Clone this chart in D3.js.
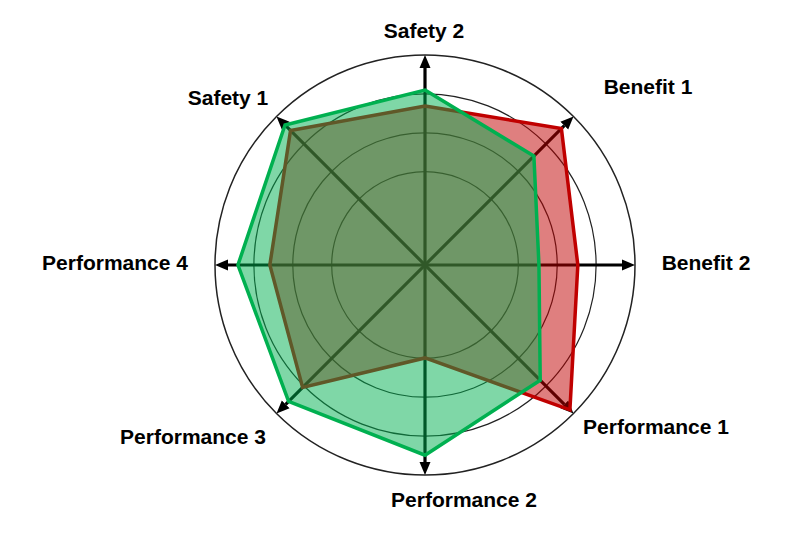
<!DOCTYPE html>
<script src="https://cdn.jsdelivr.net/npm/d3@7"></script>
<html>
    <body style="margin:0;background:#fff">
        <div id="chart-div"></div>
        <script>
            // axis names, clockwise from the top
            const axes = ["Safety 2", "Benefit 1", "Benefit 2", "Performance 1",
                          "Performance 2", "Performance 3", "Performance 4", "Safety 1"];

            // the two series, same order as axes
            const redValues = [3.69, 4.56, 3.53, 4.87, 1.99, 4.05, 3.59, 4.49];
            const greenValues = [4.10, 3.56, 2.53, 3.79, 4.49, 4.56, 4.41, 4.69];

            // grid rings
            const ringValues = [2, 3, 4, 5];

            // label offsets from the centre (layout only)
            const labelOffsets = [[-1, -235], [223, -179], [281, -3], [231, 161],
                                  [39, 234], [-232, 171], [-310, -3], [-197, -168]];

            const width = 800, height = 542;
            const cx = 425, cy = 265;
            const outerR = 210;

            const svg = d3.select("#chart-div")
                .append("svg")
                .attr("width", width)
                .attr("height", height);

            const g = svg.append("g")
                .attr("transform", "translate(" + cx + "," + cy + ")");

            const r = d3.scaleLinear()
                .domain([-0.4, 5])
                .range([0, outerR]);

            const angle = d3.scaleLinear()
                .domain([0, axes.length])
                .range([0, 2 * Math.PI]);

            // arrow marker
            svg.append("defs").append("marker")
                .attr("id", "arrow")
                .attr("markerUnits", "userSpaceOnUse")
                .attr("viewBox", "0 -6 13 12")
                .attr("refX", 0)
                .attr("refY", 0)
                .attr("markerWidth", 13)
                .attr("markerHeight", 12)
                .attr("orient", "auto-start-reverse")
                .append("path")
                .attr("d", "M0,-5.5L13,0L0,5.5Z")
                .attr("fill", "#000");

            // rings
            g.selectAll("circle.ring")
                .data(ringValues)
                .enter()
                .append("circle")
                .attr("class", "ring")
                .attr("r", d => r(d))
                .attr("fill", "none")
                .attr("stroke", "#222")
                .attr("stroke-width", d => d === 5 ? 1.5 : 1.2);

            // axis lines (one diameter per pair of opposite axes)
            const arrowLen = 13;
            g.selectAll("line.axis")
                .data(d3.range(axes.length / 2))
                .enter()
                .append("line")
                .attr("class", "axis")
                .attr("x1", i => -Math.sin(angle(i)) * (outerR - arrowLen))
                .attr("y1", i => Math.cos(angle(i)) * (outerR - arrowLen))
                .attr("x2", i => Math.sin(angle(i)) * (outerR - arrowLen))
                .attr("y2", i => -Math.cos(angle(i)) * (outerR - arrowLen))
                .attr("stroke", "#000")
                .attr("stroke-width", 3.2)
                .attr("marker-start", "url(#arrow)")
                .attr("marker-end", "url(#arrow)");

            const radar = d3.lineRadial()
                .angle((d, i) => angle(i))
                .radius(d => r(d))
                .curve(d3.curveLinearClosed);

            // red series first, green on top
            g.append("path")
                .datum(redValues)
                .attr("d", radar)
                .attr("fill", "#C00000")
                .attr("fill-opacity", 0.5)
                .attr("stroke", "#C00000")
                .attr("stroke-width", 3.5)
                .attr("stroke-linejoin", "miter");

            g.append("path")
                .datum(greenValues)
                .attr("d", radar)
                .attr("fill", "#00B050")
                .attr("fill-opacity", 0.5)
                .attr("stroke", "#00B050")
                .attr("stroke-width", 3.5)
                .attr("stroke-linejoin", "miter");

            // labels
            g.selectAll("text.label")
                .data(axes)
                .enter()
                .append("text")
                .attr("class", "label")
                .attr("x", (d, i) => labelOffsets[i][0])
                .attr("y", (d, i) => labelOffsets[i][1])
                .attr("text-anchor", "middle")
                .attr("dominant-baseline", "central")
                .style("font-family", "Arial, 'Liberation Sans', sans-serif")
                .style("font-weight", "bold")
                .style("font-size", "21px")
                .style("fill", "#000")
                .text(d => d);
        </script>
    </body>
</html>
